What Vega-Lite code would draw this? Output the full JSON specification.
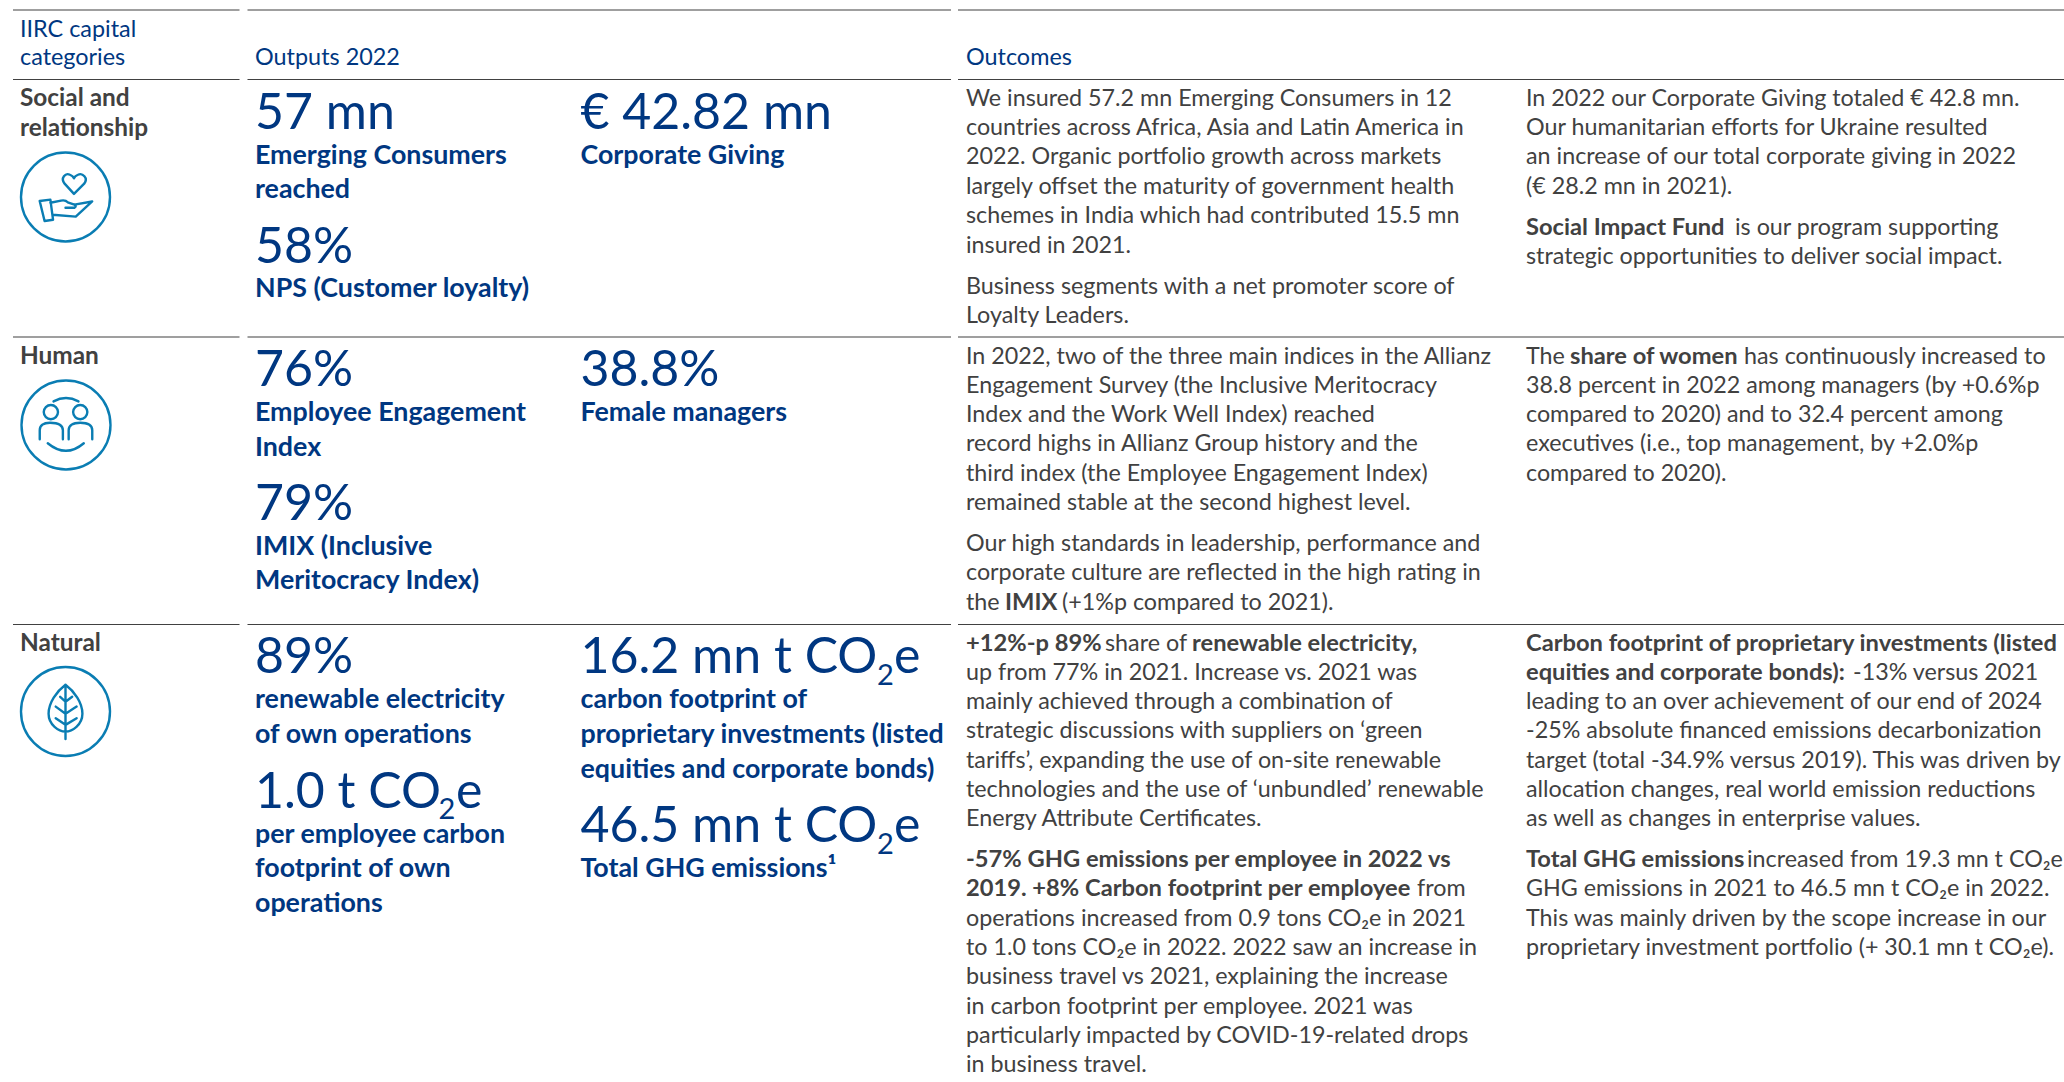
{"$schema":"https://vega.github.io/schema/vega-lite/v6.json","width":2064,"height":1082,"autosize":"none","padding":0,"background":"#ffffff","view":{"stroke":null},
"datasets":{
"rules":[{"a":13,"b":239.5,"r":10,"k":"thin"},{"a":247.5,"b":951,"r":10,"k":"thin"},{"a":958,"b":2064,"r":10,"k":"thin"},
{"a":13,"b":239.5,"r":79.5,"k":"thin"},{"a":247.5,"b":951,"r":79.5,"k":"thin"},{"a":958,"b":2064,"r":79.5,"k":"thin"},
{"a":13,"b":239.5,"r":337,"k":"thin"},{"a":247.5,"b":951,"r":337,"k":"thin"},{"a":958,"b":2064,"r":337,"k":"thin"},
{"a":13,"b":239.5,"r":624.5,"k":"thin"},{"a":247.5,"b":951,"r":624.5,"k":"thin"},{"a":958,"b":2064,"r":624.5,"k":"thin"}],
"icons":[{"icon":"hand","cx":65.5,"cy":197},{"icon":"people","cx":66,"cy":425},{"icon":"leaf","cx":65.5,"cy":711.5}],
"lines":[
{"text":"IIRC capital","tab":20,"line":36.2,"role":"head"},{"text":"categories","tab":20,"line":64,"role":"head"},{"text":"Outputs 2022","tab":255,"line":64,"role":"head"},{"text":"Outcomes","tab":966,"line":64,"role":"head"},
{"text":"Social and","tab":20,"line":105,"role":"rowhead"},{"text":"relationship","tab":20,"line":134.5,"role":"rowhead"},{"text":"Human","tab":20,"line":362.5,"role":"rowhead"},{"text":"Natural","tab":20,"line":649.5,"role":"rowhead"},
{"text":"57 mn","tab":255,"line":127.7,"role":"big"},{"text":"Emerging Consumers","tab":255,"line":162.7,"role":"kpi"},{"text":"reached","tab":255,"line":196.7,"role":"kpi"},{"text":"58%","tab":255,"line":262,"role":"big"},{"text":"NPS (Customer loyalty)","tab":255,"line":296,"role":"kpi"},
{"text":"€ 42.82 mn","tab":580.5,"line":127.7,"role":"big"},{"text":"Corporate Giving","tab":580.5,"line":162.7,"role":"kpi"},
{"text":"76%","tab":255,"line":385,"role":"big"},{"text":"Employee Engagement","tab":255,"line":420,"role":"kpi"},{"text":"Index","tab":255,"line":454.5,"role":"kpi"},{"text":"79%","tab":255,"line":519,"role":"big"},{"text":"IMIX (Inclusive","tab":255,"line":553.5,"role":"kpi"},{"text":"Meritocracy Index)","tab":255,"line":587.5,"role":"kpi"},
{"text":"38.8%","tab":580.5,"line":385,"role":"big"},{"text":"Female managers","tab":580.5,"line":420,"role":"kpi"},
{"text":"89%","tab":255,"line":672.3,"role":"big"},{"text":"renewable electricity","tab":255,"line":706.7,"role":"kpi"},{"text":"of own operations","tab":255,"line":741.7,"role":"kpi"},{"text":"1.0 t CO","tab":255,"line":806.7,"role":"big"},{"text":"2","tab":438.5,"line":818,"role":"sub"},{"text":"e","tab":456,"line":806.7,"role":"big"},{"text":"per employee carbon","tab":255,"line":841.7,"role":"kpi"},{"text":"footprint of own","tab":255,"line":876,"role":"kpi"},{"text":"operations","tab":255,"line":910.7,"role":"kpi"},
{"text":"16.2 mn t CO","tab":580.5,"line":672.3,"role":"big"},{"text":"2","tab":877,"line":684,"role":"sub"},{"text":"e","tab":894,"line":672.3,"role":"big"},{"text":"carbon footprint of","tab":580.5,"line":706.7,"role":"kpi"},{"text":"proprietary investments (listed","tab":580.5,"line":741.7,"role":"kpi"},{"text":"equities and corporate bonds)","tab":580.5,"line":776.7,"role":"kpi"},{"text":"46.5 mn t CO","tab":580.5,"line":841.3,"role":"big"},{"text":"2","tab":877,"line":853,"role":"sub"},{"text":"e","tab":894,"line":841.3,"role":"big"},{"text":"Total GHG emissions¹","tab":580.5,"line":876,"role":"kpi"},
{"text":"We insured 57.2 mn Emerging Consumers in 12","tab":966,"line":104.5,"role":"body"},{"text":"countries across Africa, Asia and Latin America in","tab":966,"line":134,"role":"body"},{"text":"2022. Organic portfolio growth across markets","tab":966,"line":163,"role":"body"},{"text":"largely offset the maturity of government health","tab":966,"line":192.5,"role":"body"},{"text":"schemes in India which had contributed 15.5 mn","tab":966,"line":222,"role":"body"},{"text":"insured in 2021.","tab":966,"line":251.5,"role":"body"},{"text":"Business segments with a net promoter score of","tab":966,"line":292.5,"role":"body"},{"text":"Loyalty Leaders.","tab":966,"line":321.7,"role":"body"},
{"text":"In 2022 our Corporate Giving totaled € 42.8 mn.","tab":1526,"line":104.5,"role":"body"},{"text":"Our humanitarian efforts for Ukraine resulted","tab":1526,"line":134,"role":"body"},{"text":"an increase of our total corporate giving in 2022","tab":1526,"line":163,"role":"body"},{"text":"(€ 28.2 mn in 2021).","tab":1526,"line":192.5,"role":"body"},{"text":"Social Impact Fund","tab":1526,"line":233.5,"role":"bodybold"},{"text":"is our program supporting","tab":1735,"line":233.5,"role":"body"},{"text":"strategic opportunities to deliver social impact.","tab":1526,"line":263,"role":"body"},
{"text":"In 2022, two of the three main indices in the Allianz","tab":966,"line":362.5,"role":"body"},{"text":"Engagement Survey (the Inclusive Meritocracy","tab":966,"line":391.8,"role":"body"},{"text":"Index and the Work Well Index) reached","tab":966,"line":421,"role":"body"},{"text":"record highs in Allianz Group history and the","tab":966,"line":450.2,"role":"body"},{"text":"third index (the Employee Engagement Index)","tab":966,"line":479.5,"role":"body"},{"text":"remained stable at the second highest level.","tab":966,"line":508.8,"role":"body"},{"text":"Our high standards in leadership, performance and","tab":966,"line":550,"role":"body"},{"text":"corporate culture are reflected in the high rating in","tab":966,"line":579.3,"role":"body"},{"text":"the","tab":966,"line":608.6,"role":"body"},{"text":"IMIX","tab":1005,"line":608.6,"role":"bodybold"},{"text":"(+1%p compared to 2021).","tab":1062,"line":608.6,"role":"body"},
{"text":"The","tab":1526,"line":362.5,"role":"body"},{"text":"share of women","tab":1570,"line":362.5,"role":"bodybold"},{"text":"has continuously increased to","tab":1744,"line":362.5,"role":"body"},{"text":"38.8 percent in 2022 among managers (by +0.6%p","tab":1526,"line":391.8,"role":"body"},{"text":"compared to 2020) and to 32.4 percent among","tab":1526,"line":421,"role":"body"},{"text":"executives (i.e., top management, by +2.0%p","tab":1526,"line":450.2,"role":"body"},{"text":"compared to 2020).","tab":1526,"line":479.5,"role":"body"},
{"text":"+12%-p 89%","tab":966,"line":649.5,"role":"bodybold"},{"text":"share of","tab":1105,"line":649.5,"role":"body"},{"text":"renewable electricity,","tab":1192,"line":649.5,"role":"bodybold"},{"text":"up from 77% in 2021. Increase vs. 2021 was","tab":966,"line":678.8,"role":"body"},{"text":"mainly achieved through a combination of","tab":966,"line":708.1,"role":"body"},{"text":"strategic discussions with suppliers on ‘green","tab":966,"line":737.4,"role":"body"},{"text":"tariffs’, expanding the use of on-site renewable","tab":966,"line":766.7,"role":"body"},{"text":"technologies and the use of ‘unbundled’ renewable","tab":966,"line":796,"role":"body"},{"text":"Energy Attribute Certificates.","tab":966,"line":825.3,"role":"body"},
{"text":"-57% GHG emissions per employee in 2022 vs","tab":966,"line":866,"role":"bodybold"},{"text":"2019. +8% Carbon footprint per employee","tab":966,"line":895.3,"role":"bodybold"},{"text":"from","tab":1417,"line":895.3,"role":"body"},{"text":"operations increased from 0.9 tons CO₂e in 2021","tab":966,"line":924.6,"role":"body"},{"text":"to 1.0 tons CO₂e in 2022. 2022 saw an increase in","tab":966,"line":953.9,"role":"body"},{"text":"business travel vs 2021, explaining the increase","tab":966,"line":983.2,"role":"body"},{"text":"in carbon footprint per employee. 2021 was","tab":966,"line":1012.5,"role":"body"},{"text":"particularly impacted by COVID-19-related drops","tab":966,"line":1041.8,"role":"body"},{"text":"in business travel.","tab":966,"line":1071.1,"role":"body"},
{"text":"Carbon footprint of proprietary investments (listed","tab":1526,"line":649.5,"role":"bodybold"},{"text":"equities and corporate bonds):","tab":1526,"line":678.8,"role":"bodybold"},{"text":"-13% versus 2021","tab":1853,"line":678.8,"role":"body"},{"text":"leading to an over achievement of our end of 2024","tab":1526,"line":708.1,"role":"body"},{"text":"-25% absolute financed emissions decarbonization","tab":1526,"line":737.4,"role":"body"},{"text":"target (total -34.9% versus 2019). This was driven by","tab":1526,"line":766.7,"role":"body"},{"text":"allocation changes, real world emission reductions","tab":1526,"line":796,"role":"body"},{"text":"as well as changes in enterprise values.","tab":1526,"line":825.3,"role":"body"},
{"text":"Total GHG emissions","tab":1526,"line":866,"role":"bodybold"},{"text":"increased from 19.3 mn t CO₂e","tab":1747,"line":866,"role":"body"},{"text":"GHG emissions in 2021 to 46.5 mn t CO₂e in 2022.","tab":1526,"line":895.3,"role":"body"},{"text":"This was mainly driven by the scope increase in our","tab":1526,"line":924.6,"role":"body"},{"text":"proprietary investment portfolio (+ 30.1 mn t CO₂e).","tab":1526,"line":953.9,"role":"body"}
]},
"layer":[
{"data":{"name":"rules"},"mark":{"type":"rule","color":"#414141","strokeWidth":1.2},"encoding":{"x":{"field":"a","type":"quantitative","scale":{"domain":[0,2064],"nice":false,"zero":false},"axis":null},"x2":{"field":"b"},"y":{"field":"r","type":"quantitative","scale":{"domain":[0,1082],"nice":false,"zero":false,"reverse":true},"axis":null}}},
{"data":{"name":"icons"},"mark":{"type":"point","filled":false,"strokeWidth":2.4,"opacity":1,"strokeCap":"round","strokeJoin":"round"},"encoding":{"x":{"field":"cx","type":"quantitative"},"y":{"field":"cy","type":"quantitative"},"size":{"value":7921},"color":{"value":"#0a7db3"},"shape":{"field":"icon","type":"nominal","legend":null,"scale":{"domain":["hand","people","leaf"],"range":[
"M1 0A1 1 0 1 1 -1 0A1 1 0 1 1 1 0ZM.19 -.07L-.02 -.3C-.12 -.43 0 -.55 .1 -.5Q.17 -.47 .19 -.42Q.21 -.47 .28 -.5C.38 -.55 .52 -.43 .42 -.3ZM-.58 .09L-.34 .06L-.28 .51L-.47 .54ZM-.34 .13L-.1 .08Q0 .06 .05 .12L.2 .17L.6 .1L.23 .44L-.29 .4M0 .24L.2 .24Q.26 .2 .2 .17",
"M1 0A1 1 0 1 1 -1 0A1 1 0 1 1 1 0ZM-.18 -.29A.16 .16 0 1 1 -.5 -.29A.16 .16 0 1 1 -.18 -.29ZM.48 -.29A.16 .16 0 1 1 .16 -.29A.16 .16 0 1 1 .48 -.29ZM-.59 .32V.12Q-.59 -.05 -.36 -.05Q-.07 -.05 -.07 .12V.32M.06 .32V.12Q.06 -.05 .32 -.05Q.59 -.05 .59 .12V.32M-.41 .41Q0 .75 .4 .41M-.28 -.53Q0 -.68 .28 -.53",
"M1 0A1 1 0 1 1 -1 0A1 1 0 1 1 1 0ZM0 -.6C-.2 -.45 -.38 -.2 -.38 .05C-.38 .3 -.15 .45 0 .45C.15 .45 .38 .3 .38 .05C.38 -.2 .2 -.45 0 -.6ZM0 -.6V.62M-.12 -.33L0 -.22L.15 -.33M-.22 -.11L0 .05L.25 -.11M-.22 .15L0 .3L.25 .15"]}}}},
{"data":{"name":"lines"},"transform":[{"filter":"datum.role!='bodybold'&&datum.role!='rowhead'&&datum.role!='kpi'"}],"mark":{"type":"text","font":"Lato","align":"left","baseline":"alphabetic","dy":1},"encoding":{"x":{"field":"tab","type":"quantitative"},"y":{"field":"line","type":"quantitative"},"text":{"field":"text"},
"size":{"field":"role","type":"nominal","legend":null,"scale":{"type":"ordinal","domain":["head","body","big","sub"],"range":[23.4,23.3,50,29]}},
"color":{"field":"role","type":"nominal","legend":null,"scale":{"domain":["head","body","big","sub","bodybold","rowhead","kpi"],"range":["#003781","#414141","#003781","#003781","#414141","#414141","#003781"]}}}},
{"data":{"name":"lines"},"transform":[{"filter":"datum.role=='bodybold'||datum.role=='rowhead'||datum.role=='kpi'"}],"mark":{"type":"text","font":"Lato","fontWeight":"bold","align":"left","baseline":"alphabetic","dy":1},"encoding":{"x":{"field":"tab","type":"quantitative"},"y":{"field":"line","type":"quantitative"},"text":{"field":"text"},
"size":{"field":"role","type":"nominal","legend":null,"scale":{"type":"ordinal","domain":["bodybold","rowhead","kpi"],"range":[23.7,24.4,26.8]}},
"color":{"field":"role","type":"nominal","legend":null,"scale":{"domain":["head","body","big","sub","bodybold","rowhead","kpi"],"range":["#003781","#414141","#003781","#003781","#414141","#414141","#003781"]}}}}
],"resolve":{"scale":{"size":"independent"}}}
